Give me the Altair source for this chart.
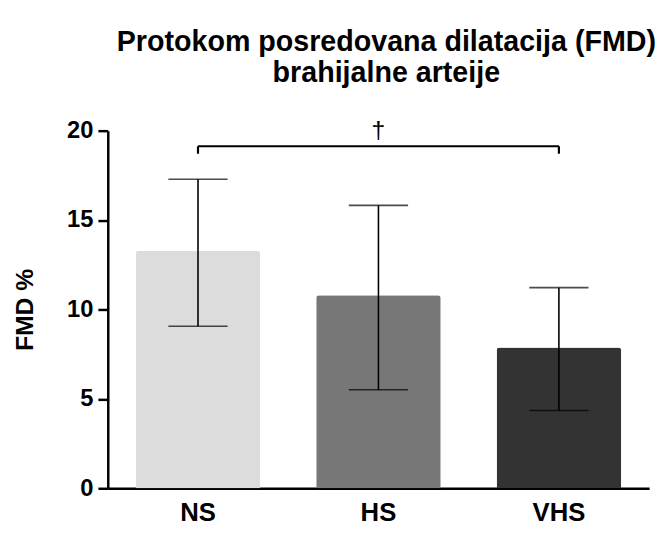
import altair as alt
import pandas as pd

groups = ["NS", "HS", "VHS"]
means = [13.28, 10.79, 7.88]
upper = [17.28, 15.82, 11.22]
lower = [9.06, 5.51, 4.35]
colors = ["#dcdcdc", "#777777", "#333333"]

bracket_y = 19.13
bracket_drop = 18.71
dagger_y = 19.55

df = pd.DataFrame({"group": groups, "mean": means, "hi": upper, "lo": lower, "color": colors})

FONT = "Liberation Sans"
xscale = alt.Scale(domain=groups, paddingInner=0.31, paddingOuter=0.155)
xenc = alt.X("group:N", scale=xscale,
             axis=alt.Axis(title=None, labelAngle=0, labelFontSize=26, labelFontWeight="bold",
                           labelFont=FONT, labelColor="black", ticks=False, labelPadding=12,
                           domainColor="black", domainWidth=2.5))
yscale = alt.Scale(domain=[0, 20], nice=False)
yaxis = alt.Axis(title="FMD %", values=[0, 5, 10, 15, 20], titleFontSize=25, titleFontWeight="bold",
                 titleFont=FONT, titleColor="black", titlePadding=30,
                 labelFontSize=24, labelFontWeight="bold", labelFont=FONT, labelColor="black",
                 tickColor="black", tickWidth=2.5, tickSize=10, labelPadding=5,
                 domainColor="black", domainWidth=2.5, grid=False)

bars = alt.Chart(df).mark_bar(cornerRadiusTopLeft=3, cornerRadiusTopRight=3).encode(
    x=xenc,
    y=alt.Y("mean:Q", scale=yscale, axis=yaxis),
    color=alt.Color("color:N", scale=None),
)

xg = alt.X("group:N", scale=xscale)
err = alt.Chart(df).mark_rule(color="black", strokeWidth=1.6).encode(
    x=xg, y="lo:Q", y2="hi:Q")
cap_hi = alt.Chart(df).mark_tick(color="black", thickness=1.6, size=60, orient="horizontal").encode(
    x=xg, y="hi:Q")
cap_lo = alt.Chart(df).mark_tick(color="black", thickness=1.6, size=60, orient="horizontal").encode(
    x=xg, y="lo:Q")

br_h = pd.DataFrame({"a": [groups[0]], "b": [groups[2]], "y": [bracket_y]})
bracket_h = alt.Chart(br_h).mark_rule(color="black", strokeWidth=2.2).encode(
    x=alt.X("a:N", scale=xscale), x2="b:N", y="y:Q")
br_v = pd.DataFrame({"group": [groups[0], groups[2]], "y": [bracket_y, bracket_y], "y2": [bracket_drop, bracket_drop]})
bracket_v = alt.Chart(br_v).mark_rule(color="black", strokeWidth=2.2).encode(
    x=xg, y="y:Q", y2="y2:Q")

dag = pd.DataFrame({"group": [groups[1]], "y": [dagger_y], "t": ["†"]})
dagger = alt.Chart(dag).mark_text(fontSize=25, font=FONT, color="black", baseline="alphabetic").encode(
    x=xg, y="y:Q", text="t:N")

chart = alt.layer(bars, err, cap_hi, cap_lo, bracket_h, bracket_v, dagger).properties(
    width=548, height=362,
    title=alt.TitleParams(["Protokom posredovana dilatacija (FMD)", "brahijalne arteije"],
                          fontSize=29, font=FONT, fontWeight="bold", color="black",
                          anchor="middle", offset=31, dx=8, lineHeight=32),
    autosize=alt.AutoSizeParams(type="none"),
    padding={"left": 101, "top": 121, "right": 10, "bottom": 34},
).configure_view(stroke=None).configure_axisX(domainCap="butt")

chart.save("out.html", embed_options={"renderer": "svg", "actions": False})
